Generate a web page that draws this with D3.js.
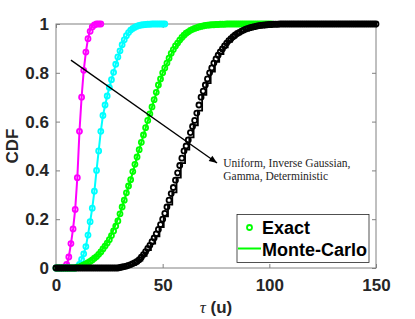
<!DOCTYPE html>
<html>
<head>
<meta charset="utf-8">
<script src="https://cdn.jsdelivr.net/npm/d3@7"></script>
<style>
  body { margin: 0; background: #fff; }
  svg { display: block; }
  .tick text { font-family: "Liberation Sans", Arial, sans-serif; font-weight: bold; font-size: 17px; fill: #262626; }
</style>
</head>
<body>
<div id="chart"></div>
<script>
// exact CDF values, one per unit of tau starting at tau = 0
const magentaExact = [0, 0, 0, 0, 0.004, 0.015, 0.045, 0.1, 0.16, 0.24, 0.37, 0.56, 0.7, 0.81, 0.885, 0.94, 0.97, 0.988, 0.996, 1, 1, 1];
const cyanExact = [0, 0, 0, 0, 0, 0, 0, 0, 0, 0,
  0.004, 0.015, 0.035, 0.058, 0.088, 0.135, 0.19, 0.245, 0.315, 0.4,
  0.48, 0.56, 0.625, 0.668, 0.705, 0.74, 0.772, 0.802, 0.835, 0.865,
  0.89, 0.915, 0.935, 0.952, 0.965, 0.975, 0.982, 0.987, 0.991, 0.994,
  0.996, 0.997, 0.998, 0.999, 0.999, 1, 1, 1, 1, 1, 1, 1];
const greenExact = [0, 0, 0, 0, 0, 0, 0, 0, 0, 0,
  0.003, 0.005, 0.009, 0.013, 0.017, 0.022, 0.027, 0.033, 0.04, 0.047,
  0.056, 0.066, 0.078, 0.09, 0.102, 0.116, 0.133, 0.152, 0.172, 0.193,
  0.222, 0.25, 0.278, 0.308, 0.336, 0.362, 0.395, 0.425, 0.455, 0.485,
  0.515, 0.545, 0.575, 0.605, 0.632, 0.66, 0.69, 0.72, 0.75, 0.775,
  0.8, 0.82, 0.84, 0.86, 0.88, 0.895, 0.91, 0.922, 0.934, 0.945,
  0.954, 0.962, 0.968, 0.974, 0.978, 0.982, 0.985, 0.988, 0.99, 0.992,
  0.994, 0.995, 0.996, 0.997, 0.997, 0.998, 0.998, 0.999, 0.999, 0.999,
  1, 1, 1, 1, 1, 1, 1, 1, 1, 1, 1, 1, 1, 1, 1, 1, 1, 1, 1, 1, 1, 1];
const blackExact = [0, 0, 0, 0, 0, 0, 0, 0, 0, 0, 0, 0, 0, 0, 0,
  0, 0, 0, 0, 0, 0, 0, 0, 0, 0, 0, 0, 0, 0, 0,
  0.002, 0.004, 0.006, 0.008, 0.011, 0.014, 0.018, 0.022, 0.027, 0.034,
  0.044, 0.055, 0.067, 0.08, 0.093, 0.108, 0.123, 0.14, 0.158, 0.178,
  0.2, 0.224, 0.25, 0.278, 0.305, 0.33, 0.36, 0.39, 0.42, 0.45,
  0.48, 0.5, 0.525, 0.555, 0.58, 0.605, 0.635, 0.668, 0.7, 0.725,
  0.75, 0.775, 0.8, 0.82, 0.84, 0.857, 0.872, 0.886, 0.898, 0.91,
  0.922, 0.932, 0.94, 0.948, 0.955, 0.961, 0.966, 0.971, 0.975, 0.979,
  0.982, 0.985, 0.987, 0.989, 0.991, 0.993, 0.994, 0.995, 0.996, 0.997,
  0.998, 0.998, 0.999, 0.999, 0.999,
  1, 1, 1, 1, 1, 1, 1, 1, 1, 1, 1, 1, 1, 1, 1, 1, 1, 1, 1, 1, 1, 1, 1,
  1, 1, 1, 1, 1, 1, 1, 1, 1, 1, 1, 1, 1, 1, 1, 1, 1, 1, 1, 1, 1, 1, 1];

// Monte-Carlo curves as [tau, cdf]
const magentaMC = [[0, 0], [4, 0], [5, 0.012], [6, 0.045], [7, 0.1], [8, 0.16], [9, 0.24], [10, 0.37],
  [11, 0.56], [12, 0.7], [13, 0.81], [14, 0.885], [15, 0.94], [16, 0.975], [17, 0.992], [18, 1], [21, 1]];
const cyanMC = [[0, 0], [10, 0], [11, 0.015], [12, 0.035], [13, 0.058], [14, 0.088], [15, 0.135], [16, 0.19],
  [17, 0.245], [18, 0.315], [19, 0.4], [20, 0.48], [21, 0.56], [22, 0.625], [24, 0.705], [26, 0.772],
  [28, 0.835], [30, 0.89], [32, 0.935], [34, 0.965], [36, 0.982], [38, 0.991], [40, 0.996], [45, 1], [51, 1]];
const greenMC = [[0, 0], [10, 0.003], [15, 0.022], [20, 0.056], [25, 0.116], [30, 0.222], [35, 0.362],
  [40, 0.515], [45, 0.66], [50, 0.8], [55, 0.895], [60, 0.954], [65, 0.982], [70, 0.994], [80, 1], [101, 1]];
// deterministic case: Monte-Carlo CDF is a staircase
const blackStepTau = [0, 30.5, 32.5, 34.5, 36.5, 38.5, 40.5, 42.5, 44.5, 46.5, 48.5, 50.5, 52.5, 54.5, 56.5,
  58.5, 60.5, 62.5, 64.5, 66.5, 68.5, 70.5, 72.5, 74.5, 76.5, 78.5, 80.5, 82.5, 84.5, 86.5, 88.5,
  90.5, 92.5, 94.5, 96.5, 98.5, 100.5, 102.5, 150];
const blackStepCdf = [0, 0.003, 0.007, 0.012, 0.02, 0.03, 0.05, 0.073, 0.1, 0.13, 0.168, 0.212, 0.26, 0.31, 0.37,
  0.43, 0.485, 0.535, 0.585, 0.645, 0.71, 0.758, 0.805, 0.845, 0.877, 0.904, 0.927, 0.944, 0.958, 0.968, 0.977,
  0.983, 0.988, 0.992, 0.995, 0.997, 0.998, 1, 1];

const xTicks = [0, 50, 100, 150];
const yTicks = [0, 0.2, 0.4, 0.6, 0.8, 1];
const arrowPts = [[7, 0.852], [75.5, 0.43]];
const noteLines = ['Uniform, Inverse Gaussian,', 'Gamma, Deterministic'];
const notePos = [78.4, 0.415];

const width = 415, height = 319;
const margin = { top: 24, right: 39, bottom: 51, left: 56 };

const svg = d3.select('#chart').append('svg')
    .attr('width', width)
    .attr('height', height);

const x = d3.scaleLinear().domain([0, 150]).range([margin.left, width - margin.right]);
const y = d3.scaleLinear().domain([0, 1]).range([height - margin.bottom, margin.top]);

const axisColor = '#808080';

svg.append('defs').append('marker')
    .attr('id', 'arrowhead')
    .attr('viewBox', '0 -5 10 10')
    .attr('refX', 10)
    .attr('refY', 0)
    .attr('orient', 'auto')
    .attr('markerUnits', 'userSpaceOnUse')
    .attr('markerWidth', 10)
    .attr('markerHeight', 8)
    .append('path')
    .attr('d', 'M0,-4L10,0L0,4Z')
    .attr('fill', '#000');

// axes box with inward ticks
const gx = svg.append('g')
    .attr('transform', `translate(0,${y(0)})`)
    .call(d3.axisBottom(x).tickValues(xTicks).tickSizeInner(-4).tickSizeOuter(0).tickPadding(11));
const gy = svg.append('g')
    .attr('transform', `translate(${x(0)},0)`)
    .call(d3.axisLeft(y).tickValues(yTicks).tickFormat(d3.format('~g')).tickSizeInner(-4).tickSizeOuter(0).tickPadding(7));
const gt = svg.append('g')
    .attr('transform', `translate(0,${y(1)})`)
    .call(d3.axisTop(x).tickValues(xTicks).tickFormat('').tickSizeInner(-4).tickSizeOuter(0));
const gr = svg.append('g')
    .attr('transform', `translate(${x(150)},0)`)
    .call(d3.axisRight(y).tickValues(yTicks).tickFormat('').tickSizeInner(-4).tickSizeOuter(0));
[gx, gy, gt, gr].forEach(g => {
    g.select('.domain').remove();
    g.selectAll('.tick line').attr('stroke', axisColor);
});

svg.append('rect')
    .attr('x', x(0))
    .attr('y', y(1))
    .attr('width', x(150) - x(0))
    .attr('height', y(0) - y(1))
    .attr('fill', 'none')
    .attr('stroke', axisColor)
    .attr('stroke-width', 1);

const line = d3.line().x(d => x(d[0])).y(d => y(d[1]));

const series = [
    { exact: magentaExact, mc: magentaMC, color: '#ff00ff' },
    { exact: cyanExact, mc: cyanMC, color: '#00ffff' },
    { exact: greenExact, mc: greenMC, color: '#00ff00' },
    { exact: blackExact, mc: null, color: '#000000' }
];

series.forEach(s => {
    if (s.mc) {
        svg.append('path')
            .datum(s.mc)
            .attr('fill', 'none')
            .attr('stroke', s.color)
            .attr('stroke-width', 2)
            .attr('d', line);
    } else {
        const steps = blackStepTau.map((t, i) => [t, blackStepCdf[i]]);
        svg.append('path')
            .datum(steps)
            .attr('fill', 'none')
            .attr('stroke', s.color)
            .attr('stroke-width', 1.8)
            .attr('d', line.curve(d3.curveStepAfter));
        line.curve(d3.curveLinear);
    }
    svg.append('g')
        .selectAll('circle')
        .data(s.exact)
        .join('circle')
        .attr('cx', (d, i) => x(i))
        .attr('cy', d => y(d))
        .attr('r', 2.5)
        .attr('fill', 'none')
        .attr('stroke', s.color)
        .attr('stroke-width', 1.8);
});

// annotation arrow + text
svg.append('line')
    .attr('x1', x(arrowPts[0][0]))
    .attr('y1', y(arrowPts[0][1]))
    .attr('x2', x(arrowPts[1][0]))
    .attr('y2', y(arrowPts[1][1]))
    .attr('stroke', '#000')
    .attr('stroke-width', 1.3)
    .attr('marker-end', 'url(#arrowhead)');

svg.append('g')
    .selectAll('text')
    .data(noteLines)
    .join('text')
    .attr('x', x(notePos[0]))
    .attr('y', (d, i) => y(notePos[1]) + i * 13.5)
    .attr('font-family', '"Liberation Serif", "Times New Roman", serif')
    .attr('font-size', 11.5)
    .attr('fill', '#262626')
    .text(d => d);

// axis labels
svg.append('text')
    .attr('transform', `translate(12,${(y(0) + y(1)) / 2}) rotate(-90)`)
    .attr('text-anchor', 'middle')
    .attr('dominant-baseline', 'central')
    .attr('font-family', '"Liberation Sans", Arial, sans-serif')
    .attr('font-weight', 'bold')
    .attr('font-size', 17)
    .attr('fill', '#262626')
    .text('CDF');

const xl = svg.append('text')
    .attr('x', (x(0) + x(150)) / 2)
    .attr('y', 313)
    .attr('text-anchor', 'middle')
    .attr('font-family', '"Liberation Sans", Arial, sans-serif')
    .attr('font-weight', 'bold')
    .attr('font-size', 17)
    .attr('fill', '#262626');
xl.append('tspan')
    .attr('font-family', '"Liberation Serif", "Times New Roman", serif')
    .attr('font-style', 'italic')
    .attr('font-weight', 'normal')
    .text('τ');
xl.append('tspan').text(' (u)');

// legend
const lg = svg.append('g');
lg.append('rect')
    .attr('x', 237)
    .attr('y', 214.5)
    .attr('width', 132)
    .attr('height', 48)
    .attr('fill', '#fff')
    .attr('stroke', '#262626')
    .attr('stroke-width', 0.8);
lg.append('circle')
    .attr('cx', 249.5)
    .attr('cy', 227.5)
    .attr('r', 2.5)
    .attr('fill', 'none')
    .attr('stroke', '#00ff00')
    .attr('stroke-width', 1.8);
lg.append('line')
    .attr('x1', 238)
    .attr('x2', 261)
    .attr('y1', 248.5)
    .attr('y2', 248.5)
    .attr('stroke', '#00ff00')
    .attr('stroke-width', 2);
lg.selectAll('text.lbl')
    .data(['Exact', 'Monte-Carlo'])
    .join('text')
    .attr('class', 'lbl')
    .attr('x', 262)
    .attr('y', (d, i) => 234 + i * 21.5)
    .attr('font-family', '"Liberation Sans", Arial, sans-serif')
    .attr('font-weight', 'bold')
    .attr('font-size', 18)
    .attr('fill', '#000')
    .text(d => d);
</script>
</body>
</html>
